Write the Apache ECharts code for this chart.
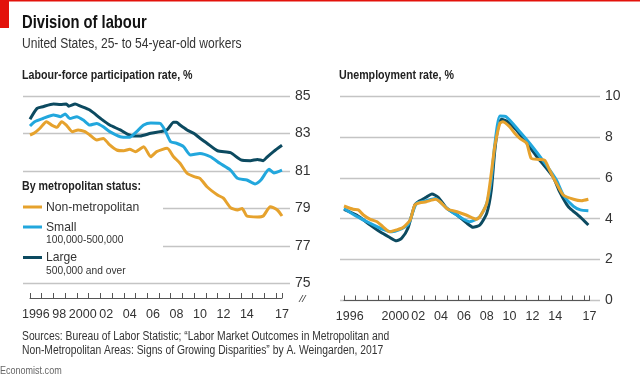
<!DOCTYPE html>
<html><head><meta charset="utf-8">
<script src="https://cdn.jsdelivr.net/npm/echarts@6/dist/echarts.min.js"></script>
<style>html,body{margin:0;padding:0;background:#fff}#c{width:640px;height:379px}</style>
</head><body><div id="c"></div>
<script>
// ---- Data ----
const seriesNames = ['Large', 'Small', 'Non-metropolitan'];

// Labour-force participation rate, %
const lfpLargeYears  = [1996.0,1996.6,1997.1,1998.0,1998.6,1999.1,1999.3,1999.85,2000.3,2001.1,2002.0,2002.8,2003.7,2004.3,2004.8,2005.4,2006.3,2007.1,2007.7,2008.25,2008.5,2008.8,2009.4,2010.0,2010.5,2011.1,2012.0,2013.1,2014.0,2014.8,2015.4,2015.9,2016.2,2016.8,2017.5];
const lfpLargeValues = [83.76,84.34,84.43,84.57,84.55,84.57,84.46,84.57,84.46,84.25,83.81,83.45,83.19,82.97,82.87,82.87,83.01,83.1,83.2,83.6,83.6,83.45,83.19,83.0,82.75,82.48,82.08,81.98,81.59,81.55,81.62,81.55,81.73,82.05,82.37];

const lfpSmallYears  = [1996.0,1996.4,1997.1,1998.0,1998.6,1999.0,1999.4,2000.0,2000.55,2001.1,2001.7,2002.25,2002.8,2003.7,2004.5,2005.1,2005.7,2006.3,2007.1,2007.5,2008.0,2008.5,2009.1,2009.7,2010.5,2011.4,2012.2,2013.1,2013.7,2014.5,2015.2,2015.7,2016.4,2016.8,2017.5];
const lfpSmallValues = [83.4,83.63,83.8,83.99,83.9,84.04,83.8,83.9,83.72,83.45,83.54,83.36,83.1,82.83,82.8,83.1,83.45,83.56,83.54,83.19,82.56,82.48,82.3,81.85,81.94,81.76,81.41,81.05,80.61,80.52,80.31,80.52,81.09,80.9,81.05];

const lfpNonMetroYears  = [1996.0,1996.4,1996.85,1997.4,1997.85,1998.3,1998.7,1999.1,1999.6,2000.1,2000.7,2001.1,2001.7,2002.25,2002.8,2003.4,2004.0,2004.5,2005.0,2005.7,2006.3,2006.8,2007.7,2008.25,2008.8,2009.4,2010.0,2010.5,2011.1,2012.0,2012.5,2013.1,2013.7,2014.1,2014.5,2015.4,2015.9,2016.5,2017.1,2017.5];
const lfpNonMetroValues = [82.92,83.04,83.28,83.63,83.45,83.33,83.63,83.45,83.1,83.19,83.1,82.92,82.65,82.74,82.39,82.12,82.08,82.16,82.03,82.3,81.76,82.03,82.21,81.76,81.41,80.88,80.7,80.61,80.16,79.72,79.55,79.05,78.92,79.0,78.6,78.55,78.6,79.1,78.92,78.6];

// Unemployment rate, %
const urLargeYears  = [1996.0,1997.1,1998.3,1999.15,1999.9,2000.6,2001.05,2001.6,2002.2,2002.65,2003.2,2003.7,2004.25,2005.0,2005.9,2006.7,2007.3,2007.9,2008.5,2008.9,2009.2,2009.5,2009.8,2010.3,2011.1,2012.0,2012.9,2014.3,2014.9,2015.5,2015.8,2016.65,2017.4];
const urLargeValues = [4.46,4.18,3.69,3.36,3.12,2.92,3.04,3.53,4.67,4.88,5.05,5.21,5.05,4.51,4.18,3.81,3.58,3.69,4.26,5.4,7.3,8.5,8.86,8.75,8.34,7.7,7.03,6.05,5.3,4.7,4.5,4.1,3.69];

const urSmallYears  = [1996.0,1997.0,1998.3,1999.4,2000.2,2000.8,2001.6,2001.8,2002.35,2003.2,2004.0,2005.0,2006.1,2007.0,2007.9,2008.5,2008.9,2009.2,2009.65,2010.2,2011.4,2012.5,2013.7,2014.6,2015.2,2016.1,2016.7,2017.4];
const urSmallValues = [4.5,4.15,3.77,3.48,3.36,3.45,3.7,3.94,4.75,4.88,4.99,4.51,4.1,3.85,4.1,4.75,5.9,7.6,9.02,8.99,8.25,7.52,6.63,5.89,5.16,4.6,4.43,4.39];

const urNonMetroYears  = [1996.0,1996.8,1997.25,1997.7,1998.3,1998.9,1999.4,2000.0,2000.6,2001.2,2001.8,2002.2,2002.65,2003.2,2004.0,2004.4,2005.1,2005.9,2006.7,2007.6,2007.9,2008.5,2008.9,2009.2,2009.65,2009.9,2010.5,2010.95,2011.4,2012.0,2012.4,2013.1,2013.6,2014.0,2014.6,2015.2,2016.1,2016.8,2017.4];
const urNonMetroValues = [4.62,4.46,4.43,4.18,3.97,3.85,3.61,3.36,3.45,3.58,3.94,4.67,4.78,4.83,4.95,4.83,4.46,4.34,4.18,3.97,4.1,4.75,6.22,7.52,8.67,8.74,8.5,8.18,7.93,7.69,6.95,6.9,6.85,6.38,5.73,5.16,4.95,4.88,4.95];

// Axis tick labels
const lfpTicks = [75, 77, 79, 81, 83, 85];
const urTicks = [0, 2, 4, 6, 8, 10];
const leftLabelYears = [1996, 1998, 2000, 2002, 2004, 2006, 2008, 2010, 2012, 2014, 2017];
const leftLabels     = ['1996', '98', '2000', '02', '04', '06', '08', '10', '12', '14', '17'];
const rightLabelYears = [1996, 2000, 2002, 2004, 2006, 2008, 2010, 2012, 2014, 2017];
const rightLabels     = ['1996', '2000', '02', '04', '06', '08', '10', '12', '14', '17'];

// ---- Styling ----
const FONT = "'Liberation Sans', Arial, sans-serif";
const colors = {Large: '#0c4a60', Small: '#22a7dd', 'Non-metropolitan': '#e6a22d'};
const gridColor = '#c4c4c4';
const axisColor = '#555';

const zip = (xs, ys) => xs.map((x, i) => [x, ys[i]]);

function labelFormatter(years, labels) {
  return function (v) {
    const y = Math.round(v - 0.5);
    if (Math.abs(v - y - 0.5) > 0.01) return '';
    const i = years.indexOf(y);
    return i >= 0 ? labels[i] : '';
  };
}

const chart = echarts.init(document.getElementById('c'), null, {renderer: 'canvas'});

const lineSeries = (name, data, xi, yi) => ({
  name, type: 'line', data, xAxisIndex: xi, yAxisIndex: yi,
  showSymbol: false, smooth: 0.2,
  lineStyle: {width: 3, color: colors[name]}, itemStyle: {color: colors[name]},
  emphasis: {disabled: true}, animation: false
});

// narrow text helper (reference uses a condensed face)
const txt = (x, y, text, font, fill, sx, z) => ({
  type: 'text', x, y, scaleX: sx, z: z || 10,
  style: {text, font, fill, textVerticalAlign: 'middle'}
});

const xLabelStyle = {show: true, margin: 10, fontSize: 12.5, color: '#333', fontFamily: FONT};

const option = {
  animation: false,
  textStyle: {fontFamily: FONT},
  grid: [
    {left: 23, width: 267, top: 96, height: 187.5},      // left gridlines
    {left: 30, width: 252, top: 96, height: 187.5},      // left data
    {left: 340, width: 260, top: 96, height: 204.5},     // right gridlines
    {left: 344, width: 245.5, top: 96, height: 204.5}    // right data
  ],
  xAxis: [
    {gridIndex: 0, type: 'value', min: 0, max: 1, show: false},
    {gridIndex: 1, type: 'value', position: 'bottom', min: 1996, max: 2017.5, interval: 1, offset: 14.5,
      axisLine: {show: true, onZero: false, lineStyle: {color: axisColor, width: 1}},
      axisTick: {show: true, inside: true, length: 5, lineStyle: {color: axisColor}},
      axisLabel: {show: false}, splitLine: {show: false}},
    {gridIndex: 1, type: 'value', position: 'bottom', min: 1996, max: 2017.5, interval: 0.5, offset: 14.5,
      axisLine: {show: false, onZero: false}, axisTick: {show: false}, splitLine: {show: false},
      axisLabel: Object.assign({formatter: labelFormatter(leftLabelYears, leftLabels)}, xLabelStyle)},
    {gridIndex: 2, type: 'value', min: 0, max: 1, show: false},
    {gridIndex: 3, type: 'value', position: 'bottom', min: 1996, max: 2017.5, interval: 1,
      axisLine: {show: true, onZero: false, lineStyle: {color: axisColor, width: 1}},
      axisTick: {show: true, inside: true, length: 5, lineStyle: {color: axisColor}},
      axisLabel: {show: false}, splitLine: {show: false}},
    {gridIndex: 3, type: 'value', position: 'bottom', min: 1996, max: 2017.5, interval: 0.5,
      axisLine: {show: false, onZero: false}, axisTick: {show: false}, splitLine: {show: false},
      axisLabel: Object.assign({formatter: labelFormatter(rightLabelYears, rightLabels)}, xLabelStyle)}
  ],
  yAxis: [
    {gridIndex: 0, type: 'value', position: 'right', min: lfpTicks[0], max: lfpTicks[lfpTicks.length - 1], interval: 2,
      axisLine: {show: false}, axisTick: {show: false},
      axisLabel: {margin: 5, fontSize: 14, color: '#333', fontFamily: FONT},
      splitLine: {show: true, lineStyle: {color: gridColor, width: 1.3}}},
    {gridIndex: 1, type: 'value', min: lfpTicks[0], max: lfpTicks[lfpTicks.length - 1], show: false},
    {gridIndex: 2, type: 'value', position: 'right', min: urTicks[0], max: urTicks[urTicks.length - 1], interval: 2,
      axisLine: {show: false}, axisTick: {show: false},
      axisLabel: {margin: 5, fontSize: 14, color: '#333', fontFamily: FONT},
      splitLine: {show: true, lineStyle: {color: gridColor, width: 1.3}}},
    {gridIndex: 3, type: 'value', min: urTicks[0], max: urTicks[urTicks.length - 1], show: false}
  ],
  series: [
    lineSeries('Large', zip(lfpLargeYears, lfpLargeValues), 1, 1),
    lineSeries('Small', zip(lfpSmallYears, lfpSmallValues), 1, 1),
    lineSeries('Non-metropolitan', zip(lfpNonMetroYears, lfpNonMetroValues), 1, 1),
    lineSeries('Large', zip(urLargeYears, urLargeValues), 4, 3),
    lineSeries('Small', zip(urSmallYears, urSmallValues), 4, 3),
    lineSeries('Non-metropolitan', zip(urNonMetroYears, urNonMetroValues), 4, 3)
  ],
  graphic: [
    {type: 'rect', shape: {x: 0, y: 0, width: 640, height: 1.5}, style: {fill: '#e3120b'}, silent: true},
    {type: 'rect', shape: {x: 0, y: 0, width: 9, height: 28}, style: {fill: '#e3120b'}, silent: true},
    txt(22, 23, 'Division of labour', "bold 18px " + FONT, '#121212', 0.82),
    txt(22, 44, 'United States, 25- to 54-year-old workers', "14px " + FONT, '#333', 0.86),
    txt(22, 75, 'Labour-force participation rate, %', "bold 13px " + FONT, '#222', 0.82),
    txt(339, 75, 'Unemployment rate, %', "bold 13px " + FONT, '#222', 0.82),
    // legend box cover over gridlines
    {type: 'rect', z: 50, shape: {x: 15, y: 178, width: 148, height: 96}, style: {fill: '#fff'}, silent: true},
    txt(22, 186, 'By metropolitan status:', "bold 13px " + FONT, '#222', 0.82, 51),
    {type: 'line', z: 51, shape: {x1: 23, y1: 207, x2: 42, y2: 207}, style: {stroke: colors['Non-metropolitan'], lineWidth: 3}},
    txt(46, 207, 'Non-metropolitan', "13.5px " + FONT, '#333', 0.9, 51),
    {type: 'line', z: 51, shape: {x1: 23, y1: 227, x2: 42, y2: 227}, style: {stroke: colors['Small'], lineWidth: 3}},
    txt(46, 227, 'Small', "13.5px " + FONT, '#333', 0.9, 51),
    txt(46, 240, '100,000-500,000', "11.5px " + FONT, '#333', 0.89, 51),
    {type: 'line', z: 51, shape: {x1: 23, y1: 257.5, x2: 42, y2: 257.5}, style: {stroke: colors['Large'], lineWidth: 3}},
    txt(46, 257.5, 'Large', "13.5px " + FONT, '#333', 0.9, 51),
    txt(46, 270.5, '500,000 and over', "11.5px " + FONT, '#333', 0.89, 51),
    // axis break mark
    {type: 'line', shape: {x1: 299, y1: 302, x2: 303, y2: 295}, style: {stroke: '#555', lineWidth: 1}},
    {type: 'line', shape: {x1: 302, y1: 302, x2: 306, y2: 295}, style: {stroke: '#555', lineWidth: 1}},
    // sources
    txt(22, 337, 'Sources: Bureau of Labor Statistic; \u201cLabor Market Outcomes in Metropolitan and', "12px " + FONT, '#333', 0.86),
    txt(22, 351, 'Non-Metropolitan Areas: Signs of Growing Disparities\u201d by A. Weingarden, 2017', "12px " + FONT, '#333', 0.86),
    txt(0, 371, 'Economist.com', "11px " + FONT, '#666', 0.82)
  ]
};
chart.setOption(option);
</script>
</body></html>
